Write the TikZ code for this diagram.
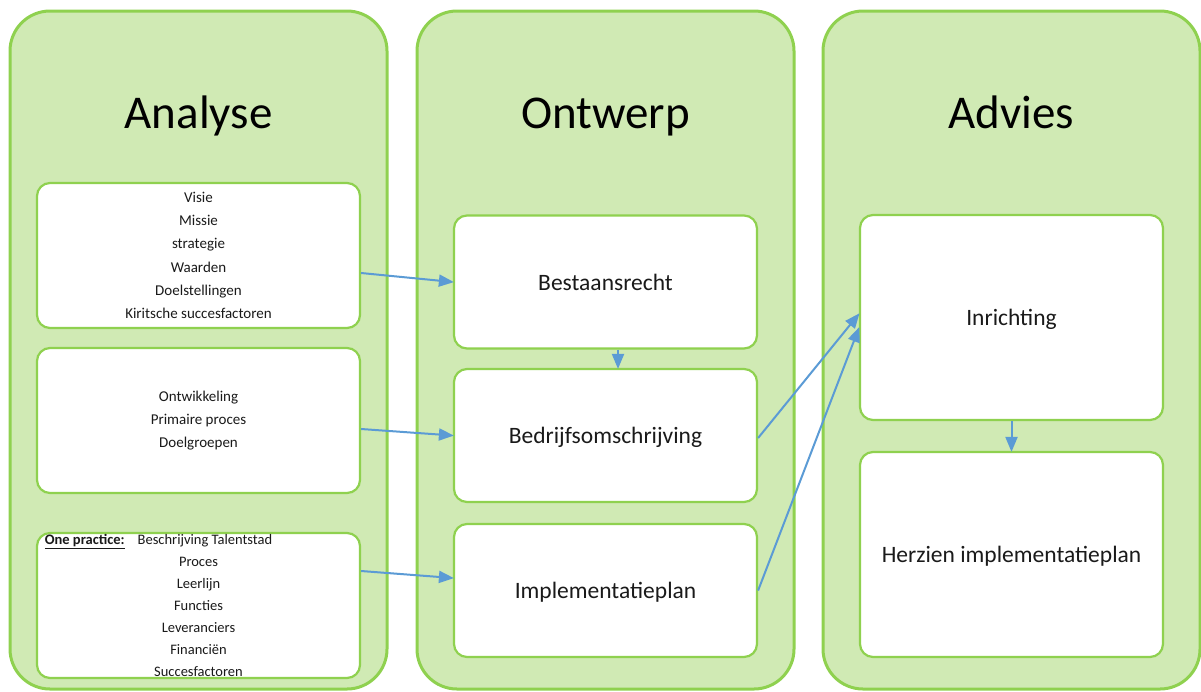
\documentclass[tikz,border=0pt]{standalone}
\usepackage{fontspec}
\setmainfont{Carlito}
\usetikzlibrary{arrows.meta}
\definecolor{panelfill}{HTML}{D0EAB4}
\definecolor{panelline}{HTML}{8FD14F}
\definecolor{arrowblue}{HTML}{5B9BD5}
\definecolor{txt}{HTML}{1A1A1A}

\begin{document}
\begin{tikzpicture}[x=1pt,y=-1pt,
  panel/.style={draw=panelline, line width=3pt, fill=panelfill, rounded corners=40pt,
    minimum width=377pt, minimum height=678pt, inner sep=0pt},
  title/.style={font=\fontsize{47}{50}\selectfont, text=black, inner sep=0pt, anchor=base},
  card/.style={draw=panelline, line width=2.2pt, fill=white, rounded corners=13pt,
    inner sep=0pt, align=center, text=txt},
  acard/.style={card, minimum width=323pt, minimum height=145pt},
  ocard/.style={card, minimum width=303pt, minimum height=133pt},
  dcard/.style={card, minimum width=303pt, minimum height=205pt},
  smalltext/.style={font=\fontsize{15}{23.3}\selectfont},
  bigtext/.style={font=\fontsize{23.5}{28}\selectfont, text height=16pt, text depth=0pt},
  link/.style={draw=arrowblue, line width=2pt, shorten >=-1pt,
    -{Triangle[length=15pt 0 1,width=12pt 0 1]}}
]
\useasboundingbox (0,0) rectangle (1201,691);

% three phase panels
\node[panel] (panA) at (198.5,350) {};
\node[panel] (panO) at (605.5,350) {};
\node[panel] (panD) at (1011.5,350) {};

\node[title] (tA) at (198.5,128) {Analyse};
\node[title] (tO) at (605.5,128) {Ontwerp};
\node[title] (tD) at (1011.5,128) {Advies};

% analysis cards
\node[acard, smalltext] (a1) at (198.5,255.5)
  {Visie\\Missie\\strategie\\Waarden\\Doelstellingen\\Kiritsche succesfactoren};
\node[acard, smalltext] (a2) at (198.5,420.5)
  {Ontwikkeling\\Primaire proces\\Doelgroepen};
\node[acard, font=\fontsize{14.5}{22}\selectfont] (a3) at (198.5,605.5)
  {\hspace*{-80pt}\underline{\textbf{One practice:}}\hspace{13pt}Beschrijving Talentstad\\
   Proces\\Leerlijn\\Functies\\Leveranciers\\Financiën\\Succesfactoren};

% design cards
\node[ocard, bigtext] (o1) at (605.5,282) {Bestaansrecht};
\node[ocard, bigtext] (o2) at (605.5,435.5) {Bedrijfsomschrijving};
\node[ocard, bigtext] (o3) at (605.5,590.5) {Implementatieplan};

% advice cards
\node[dcard, bigtext] (d1) at (1011.5,317.5) {Inrichting};
\node[dcard, bigtext] (d2) at (1011.5,554.5) {Herzien implementatieplan};

% connectors
\draw[link] ([yshift=-17.5pt]a1.east) -- (o1.west);
\draw[link] ([yshift=-8.5pt]a2.east) -- (o2.west);
\draw[link] ([yshift=34.5pt]a3.east) -- ([yshift=12.5pt]o3.west);
\draw[link] ([xshift=12.5pt]o1.south) -- ([xshift=12.5pt]o2.north);
\draw[link] ([yshift=-2.5pt]o2.east) -- ([yshift=3.5pt]d1.west);
\draw[link] (o3.east) -- ([yshift=-10.5pt]d1.west);
\draw[link] (d1.south) -- (d2.north);
\end{tikzpicture}
\end{document}
